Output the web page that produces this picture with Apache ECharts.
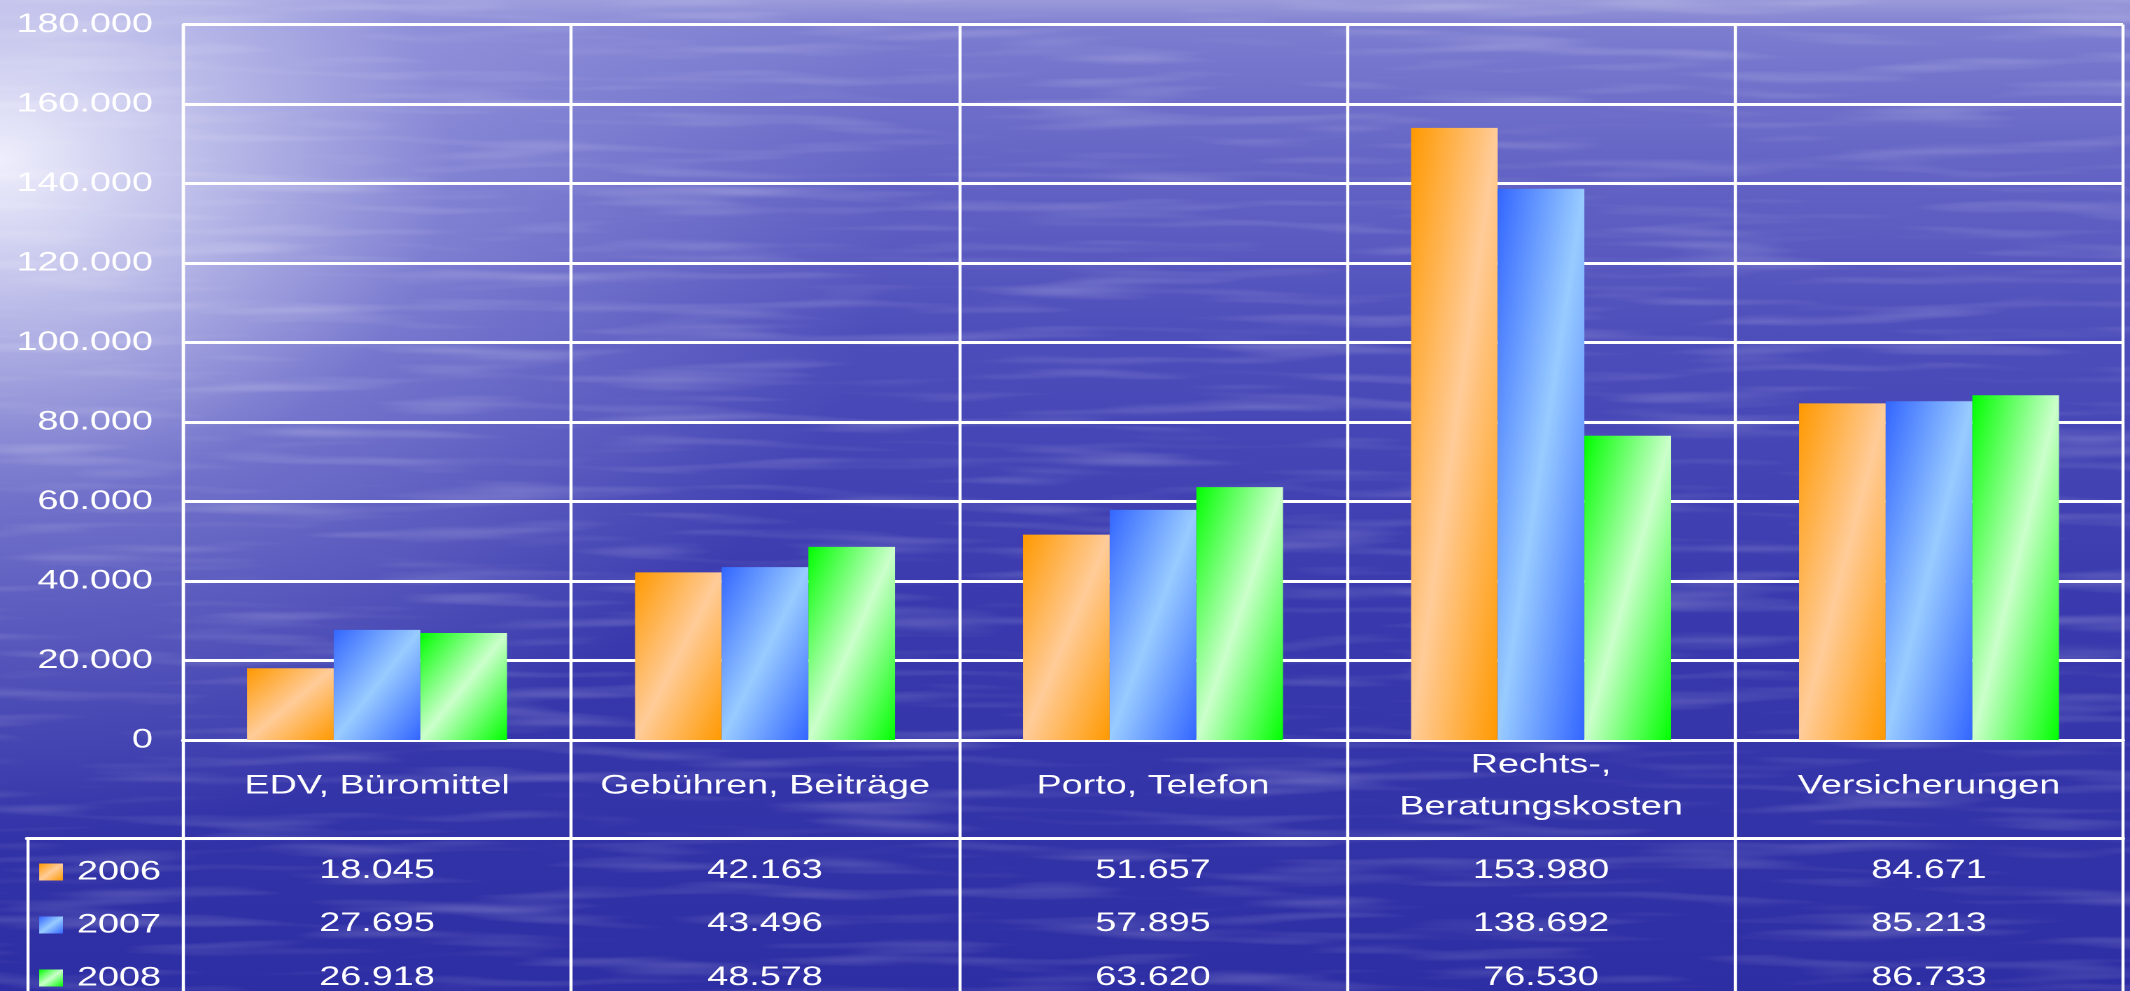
<!DOCTYPE html>
<html>
<head>
<meta charset="utf-8">
<script src="https://cdn.jsdelivr.net/npm/echarts@6/dist/echarts.min.js"></script>
<style>
  html, body { margin: 0; padding: 0; overflow: hidden; }
  #wrap {
    position: relative; width: 2130px; height: 991px; overflow: hidden;
    background:
      url("data:image/svg+xml,%3Csvg xmlns='http://www.w3.org/2000/svg' width='2130' height='991'%3E%3Cfilter id='n'%3E%3CfeTurbulence type='fractalNoise' baseFrequency='0.005 0.07' numOctaves='2' seed='7'/%3E%3CfeColorMatrix values='0 0 0 0 1 0 0 0 0 1 0 0 0 0 1 0.5 0 0 0 -0.25'/%3E%3C/filter%3E%3Crect width='2130' height='991' filter='url(%23n)'/%3E%3C/svg%3E"),
      radial-gradient(ellipse 900px 680px at 0px 160px, rgba(238,238,252,1) 0%, rgba(210,210,242,0.85) 20%, rgba(165,165,228,0.48) 50%, rgba(120,120,210,0) 100%),
      linear-gradient(180deg, #9a9ada 0px, #7c7cd0 28px, #6666c6 150px, #4c4cba 350px, #3a3aae 600px, #2e2ea4 991px);
  }
  #chart {
    position: absolute; left: 0; top: 0; width: 1522px; height: 991px;
    transform: scaleX(1.399474); transform-origin: 0 0;
  }
</style>
</head>
<body>
<div id="wrap"><div id="chart"></div></div>
<script>
// ---- data ----
const categories = ['EDV, Büromittel', 'Gebühren, Beiträge', 'Porto, Telefon', 'Rechts-,\nBeratungskosten', 'Versicherungen'];
const years = ['2006', '2007', '2008'];
const values2006 = [18045, 42163, 51657, 153980, 84671];
const values2007 = [27695, 43496, 57895, 138692, 85213];
const values2008 = [26918, 48578, 63620, 76530, 86733];
const yMin = 0, yMax = 180000, yInterval = 20000;

const seriesValues = [values2006, values2007, values2008];
const palettes = [
  ['#FF9900', '#FFCC99'],
  ['#3366FF', '#99CCFF'],
  ['#00FF00', '#CCFFCC']
];

function fmt(v) { return String(v).replace(/\B(?=(\d{3})+(?!\d))/g, '.'); }
function stops(p) { return [{offset: 0, color: p[0]}, {offset: 0.5, color: p[1]}, {offset: 1, color: p[0]}]; }

const WHITE = '#ffffff';
const FONT = 'Liberation Sans, Arial, sans-serif';
const LEFT = 130.8, RIGHT = 5, TOP = 24.5, BOTTOM = 249;
const rowOffsets = [130.5, 183.5, 237.5];

const chart = echarts.init(document.getElementById('chart'), null, {renderer: 'canvas', devicePixelRatio: 2});

const xAxes = [
  { // main category axis
    type: 'category', gridIndex: 0, data: categories, position: 'bottom',
    axisLine: {show: true, onZero: false, lineStyle: {color: WHITE, width: 3}},
    axisTick: {show: false},
    splitLine: {show: true, interval: 0, lineStyle: {color: WHITE, width: 2.2}},
    axisLabel: {color: WHITE, fontSize: 27, fontFamily: FONT, lineHeight: 42, margin: 46,
                verticalAlign: 'middle', interval: 0}
  }
];
seriesValues.forEach((vals, si) => {
  xAxes.push({
    type: 'category', gridIndex: 0, data: categories, position: 'bottom', offset: rowOffsets[si],
    axisLine: {show: false, onZero: false}, axisTick: {show: false}, splitLine: {show: false},
    axisLabel: {color: WHITE, fontSize: 27, fontFamily: FONT, margin: 0, verticalAlign: 'middle', interval: 0,
                formatter: (val, idx) => fmt(vals[idx])}
  });
});
xAxes.push({ // table column separators
  type: 'category', gridIndex: 1, data: categories,
  axisLine: {show: false, onZero: false}, axisTick: {show: false}, axisLabel: {show: false},
  splitLine: {show: true, interval: 0, lineStyle: {color: WHITE, width: 2.2}}
});
xAxes.push({ // table header line
  type: 'value', gridIndex: 2, position: 'top',
  axisLine: {show: true, onZero: false, lineStyle: {color: WHITE, width: 3}},
  axisTick: {show: false}, axisLabel: {show: false}, splitLine: {show: false}
});

const option = {
  animation: false,
  grid: [
    {left: LEFT, right: RIGHT, top: TOP, bottom: BOTTOM, containLabel: false},
    {left: LEFT, right: RIGHT, top: 991 - BOTTOM, bottom: 0},
    {left: 19.3, right: RIGHT, top: 838, bottom: 0}
  ],
  legend: {
    data: years, orient: 'vertical', left: 28, top: 858.5, height: 300, padding: 0,
    icon: 'rect', itemWidth: 17, itemHeight: 17, itemGap: 26, selectedMode: false,
    textStyle: {color: WHITE, fontSize: 27, fontFamily: FONT, padding: [0, 0, 0, 5]}
  },
  xAxis: xAxes,
  yAxis: [
    {
      type: 'value', gridIndex: 0, min: yMin, max: yMax, interval: yInterval,
      axisLine: {show: true, lineStyle: {color: WHITE, width: 2.2}},
      axisTick: {show: false},
      splitLine: {show: true, lineStyle: {color: WHITE, width: 3}},
      axisLabel: {color: WHITE, fontSize: 27, fontFamily: FONT, margin: 21.5, formatter: v => fmt(v)}
    },
    {type: 'value', gridIndex: 1, show: false},
    {
      type: 'value', gridIndex: 2,
      axisLine: {show: true, onZero: false, lineStyle: {color: WHITE, width: 2.2}},
      axisTick: {show: false}, axisLabel: {show: false}, splitLine: {show: false}
    }
  ],
  series: seriesValues.map((vals, si) => ({
    name: years[si], type: 'bar', xAxisIndex: 0, yAxisIndex: 0,
    barGap: '0%', barCategoryGap: '33%',
    itemStyle: {color: new echarts.graphic.LinearGradient(0, 0, 1, 1, stops(palettes[si]))},
    data: vals.slice()
  }))
};
chart.setOption(option);

// Gradient mapped in the bar's normalized box (like an office "diagonal" fill)
const model = chart.getModel();
chart.setOption({
  series: seriesValues.map((vals, si) => {
    const data = model.getSeriesByIndex(si).getData();
    return {
      data: vals.map((v, i) => {
        const l = data.getItemLayout(i);
        const w = Math.abs(l.width), h = Math.abs(l.height);
        const d = w * w + h * h;
        return {value: v, itemStyle: {color: new echarts.graphic.LinearGradient(0, 0, 2 * h * h / d, 2 * w * w / d, stops(palettes[si]))}};
      })
    };
  })
});
</script>
</body>
</html>
